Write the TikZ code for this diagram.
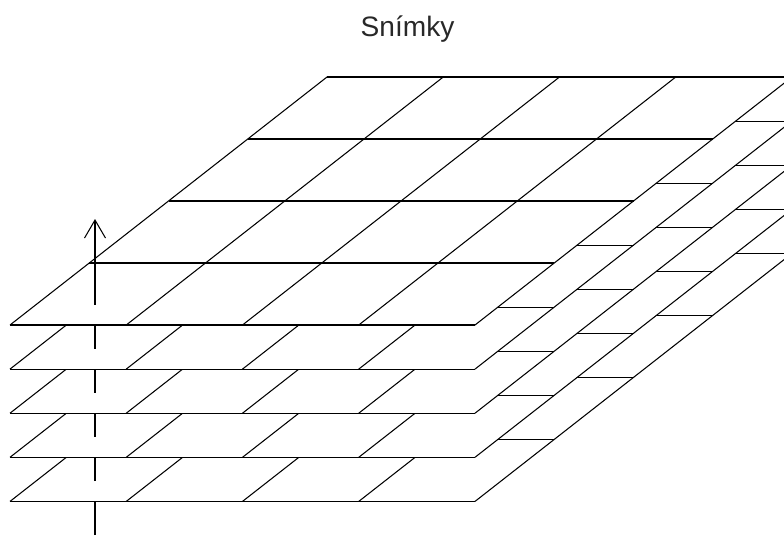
\documentclass[tikz,border=0pt]{standalone}
\usepackage{fontspec}
\setmainfont{Liberation Sans}
\usetikzlibrary{arrows.meta}
\definecolor{lineInk}{RGB}{0,0,0}
\definecolor{titleInk}{RGB}{40,40,40}

\begin{document}
\begin{tikzpicture}[
    x=0.02cm, y=-0.02cm,
    gridline/.style={draw=lineInk, line width=0.6pt},
    layerfill/.style={fill=white},
    axisarrow/.style={-{Straight Barb[length=0.36cm, width=0.42cm]}, draw=lineInk, line width=0.6pt},
    heading/.style={font=\fontsize{16}{19}\selectfont, text=titleInk, inner sep=0pt}
]

% --- Frame (pixel units, y down) ---
\useasboundingbox (0,0) rectangle (784,535);
\clip (0,0) rectangle (784,535);

% --- Title ---
\node[heading, anchor=base] (title) at (407.5,36.7) {Snímky};

% --- Stacked frames, bottom one first so upper ones hide it ---
\foreach \k in {4,3,...,0} {
  \pgfmathsetmacro{\yb}{325+44.1*\k}
  \fill[layerfill] (10,\yb) -- (475,\yb) -- (792,\yb-248) -- (327,\yb-248) -- cycle;
  \foreach \i in {0,...,4} {
    \draw[gridline] (10+116.25*\i,\yb) -- (327+116.25*\i,\yb-248);
    \draw[gridline] (10+79.25*\i,\yb-62*\i) -- (475+79.25*\i,\yb-62*\i);
  }
}

% --- Time axis through the stack ---
\coordinate (axisfoot) at (95,535);
\coordinate (axistip) at (95,219);
\draw[axisarrow, dash pattern=on 0.66cm off 0.42cm on 0.462cm off 0.42cm on 0.462cm off 0.42cm on 0.462cm off 0.42cm on 0.462cm off 0.42cm on 3cm]
    (axisfoot) -- (axistip);

\end{tikzpicture}
\end{document}
